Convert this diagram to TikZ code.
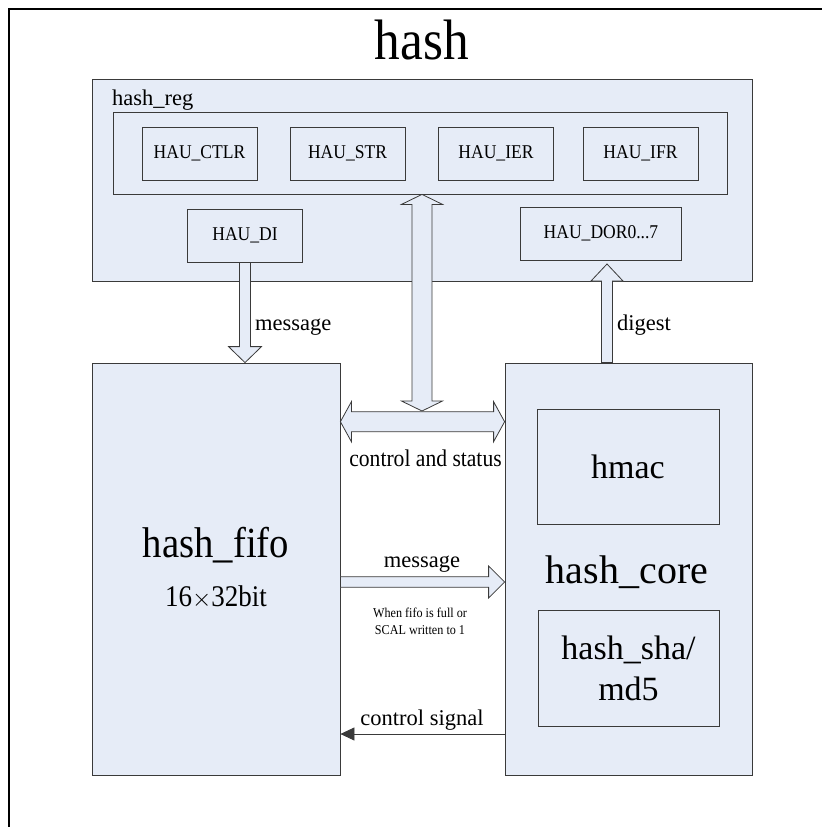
\documentclass[tikz,border=0pt]{standalone}
\usepackage{fontspec}
\setmainfont{Liberation Serif}
\newfontfamily\narrowfont{Liberation Serif}[FakeStretch=0.9]
\usepackage{xcolor}
\definecolor{cfill}{HTML}{E6ECF7}
\definecolor{cline}{HTML}{3A3A3A}
\usetikzlibrary{positioning,arrows.meta,calc}

% block arrows: shaft half width, head half width, head length
\tikzset{
  fat/.style n args={3}{draw=cline, fill=cfill, line width=0.8pt, to path={
    ($(\tikztotarget)!#3!(\tikztostart)$) coordinate (fb)
    ($(\tikztostart)!#1!90:(\tikztotarget)$) -- ($(fb)!#1!-90:(\tikztostart)$)
    -- ($(fb)!#2!-90:(\tikztostart)$) -- (\tikztotarget) -- ($(fb)!#2!90:(\tikztostart)$)
    -- ($(fb)!#1!90:(\tikztostart)$) -- ($(\tikztostart)!#1!-90:(\tikztotarget)$) -- cycle}},
  fatboth/.style n args={3}{draw=cline, fill=cfill, line width=0.8pt, to path={
    ($(\tikztotarget)!#3!(\tikztostart)$) coordinate (fb)
    ($(\tikztostart)!#3!(\tikztotarget)$) coordinate (fa)
    (\tikztostart) -- ($(fa)!#2!90:(\tikztotarget)$) -- ($(fa)!#1!90:(\tikztotarget)$)
    -- ($(fb)!#1!-90:(\tikztostart)$) -- ($(fb)!#2!-90:(\tikztostart)$) -- (\tikztotarget)
    -- ($(fb)!#2!90:(\tikztostart)$) -- ($(fb)!#1!90:(\tikztostart)$)
    -- ($(fa)!#1!-90:(\tikztotarget)$) -- ($(fa)!#2!-90:(\tikztotarget)$) -- cycle}}
}

\begin{document}
\begin{tikzpicture}[x=1pt, y=-1pt,
  blk/.style={draw=cline, fill=cfill, line width=0.8pt, inner sep=0pt, align=center},
  regbox/.style={blk, minimum width=115pt, minimum height=53pt, font=\narrowfont\fontsize{19.5}{21}\selectfont},
  lbl/.style={inner sep=0pt, font=\fontsize{22.5}{25}\selectfont}]
  \useasboundingbox (0,0) rectangle (822,827);
  \draw[line width=2pt] (9,827) -- (9,9) -- (822,9);
  \node[inner sep=0pt, anchor=base, font=\narrowfont\fontsize{57}{60}\selectfont] (title) at (422,59) {hash};

  % register file
  \node[blk, minimum width=660.5pt, minimum height=202pt] (reg) at (422.25,180) {};
  \node[lbl, anchor=base west] (regname) at (112,105) {hash\_reg};
  \node[blk, minimum width=614pt, minimum height=82pt] (grp) at (420,153) {};
  \foreach \n/\x/\t in {ctlr/199.5/HAU\_CTLR, str/347.5/HAU\_STR, ier/496/HAU\_IER, ifr/640.5/HAU\_IFR}
    \node[regbox] (\n) at (\x,153.5) {\t};
  \node[regbox] (hdi) at (245,235.5) {HAU\_DI};
  \node[regbox, minimum width=161pt] (dor) at (601,233.5) {HAU\_DOR0...7};

  % fifo and core
  \node[blk, minimum width=248pt, minimum height=412pt] (fifo) at (216,569) {};
  \node[inner sep=0pt, anchor=base, font=\narrowfont\fontsize{43}{46}\selectfont] (fifoname) at (216,557) {hash\_fifo};
  \node[inner sep=0pt, anchor=base, font=\narrowfont\fontsize{30}{32}\selectfont] (fifosize) at (216,606) {16$\times$32bit};
  \node[blk, minimum width=247.5pt, minimum height=412pt] (core) at (628.75,569) {};
  \node[inner sep=0pt, anchor=base, font=\fontsize{40}{44}\selectfont] (corename) at (627,583) {hash\_core};
  \node[blk, minimum width=182pt, minimum height=115pt, font=\fontsize{34}{41}\selectfont] (hmac) at (628,466.5) {hmac};
  \node[blk, minimum width=181pt, minimum height=116pt, font=\fontsize{34}{41}\selectfont] (sha) at (628.5,668) {hash\_sha/\\md5};

  % connectors
  \coordinate (dg) at (607,264);
  \coordinate (cs) at (422,421.7);
  \coordinate (csup) at (422,411);
  \coordinate (mr) at (422,582);
  \coordinate (cg) at (422,734);
  \draw[fat={5.5pt}{16.5pt}{16pt}] (hdi.south) to (hdi.south |- fifo.north);
  \draw[fat={5.5pt}{16pt}{17pt}] (dg |- core.north) to (dg);
  \draw[fatboth={10pt}{20.5pt}{10pt}] (csup |- grp.south) to (csup);
  \draw[fatboth={10pt}{20pt}{11pt}] (fifo.east |- cs) to (core.west |- cs);
  \draw[fat={5.3pt}{16pt}{16pt}] (fifo.east |- mr) to (core.west |- mr);
  \draw[cline, line width=0.8pt, -{Triangle[length=14pt, width=13pt]}] (core.west |- cg) -- (fifo.east |- cg);

  % labels
  \node[lbl, anchor=base west] (msgin) at (255,330) {message};
  \node[lbl, anchor=base west] (dgtxt) at (617,330) {digest};
  \node[lbl, anchor=base, font=\narrowfont\fontsize{24}{26}\selectfont] (cstxt) at (425.5,466) {control and status};
  \node[lbl, anchor=base] (msgtxt) at (422,567) {message};
  \node[inner sep=0pt, align=center, font=\narrowfont\fontsize{13.5}{17}\selectfont] (whentxt) at (420,621) {When fifo is full or\\SCAL written to 1};
  \node[lbl, anchor=base] (cgtxt) at (422,725) {control signal};
\end{tikzpicture}
\end{document}
